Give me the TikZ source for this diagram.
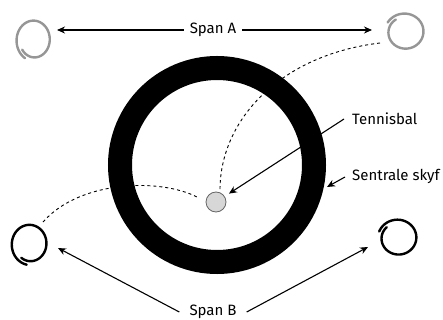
\documentclass[tikz,border=0pt]{standalone}
\usepackage{fontspec}
\setmainfont{Fira Sans}
\usetikzlibrary{arrows.meta,positioning,calc}
\definecolor{ballcolor}{RGB}{215,215,215}
\definecolor{swirlgray}{RGB}{150,150,150}

% hand drawn loop: centre x, centre y, x radius, y radius, start angle
\newcommand{\swirl}[6][black]{%
  \draw[#1, line width=2.4pt, line cap=round, domain=0:385, samples=80, smooth]
    plot ({#2+(#4*(1-0.2*\x/385))*cos(\x+#6)}, {#3+(#5*(1-0.2*\x/385))*sin(\x+#6)});
}

\begin{document}
\begin{tikzpicture}[x=1pt, y=-1pt,
    label/.style={font=\fontsize{15}{17}\selectfont, inner sep=2pt},
    arrowline/.style={line width=1.1pt, -{Stealth[length=8pt, width=7pt]}},
    orbit/.style={line width=0.9pt, dash pattern=on 3pt off 3pt}]
  \useasboundingbox (0,0) rectangle (443,320);
  % central disc
  \node[circle, draw, line width=24pt, minimum size=194pt, inner sep=0pt] (ring) at (217,165) {};
  \node[circle, draw=black!60, fill=ballcolor, line width=0.8pt, minimum size=20pt, inner sep=0pt] (ball) at (216,202) {};
  % loops
  \swirl[swirlgray]{34}{40}{18}{21}{120}
  \swirl[swirlgray]{405}{32}{20}{19}{210}
  \swirl{30}{244}{19}{21}{100}
  \swirl{398}{238}{20}{19}{200}
  \coordinate (loopAL) at (57,30);
  \coordinate (loopAR) at (372,30);
  \coordinate (loopBL) at (58,248);
  \coordinate (loopBR) at (368,247);
  \coordinate (orbitA) at (380,43);
  \coordinate (orbitB) at (43,222);
  \coordinate (ringE) at (327,187);
  % texts
  \node[label, inner sep=6pt] (spanA) at (213,30) {Span A};
  \node[label, inner sep=10pt] (spanB) at (213,312) {Span B};
  \node[label, anchor=west] (tennis) at (350,119) {Tennisbal};
  \node[label, anchor=west] (skyf) at (350,176) {Sentrale skyf};
  % arrows
  \draw[arrowline] (spanA) -- (loopAL);
  \draw[arrowline] (spanA) -- (loopAR);
  \draw[arrowline] (spanB.west) -- (loopBL);
  \draw[arrowline] (spanB.east) -- (loopBR);
  \draw[arrowline, shorten >=5pt] (tennis.west) ++(-6,0) -- (ball);
  \draw[arrowline] (skyf.west) ++(-5,1) -- (ringE);
  % paths of the ball
  \draw[orbit] (orbitA) .. controls (280,55) and (220,120) .. (220,190);
  \draw[orbit] (orbitB) .. controls (80,180) and (160,178) .. (197,197);
\end{tikzpicture}
\end{document}
